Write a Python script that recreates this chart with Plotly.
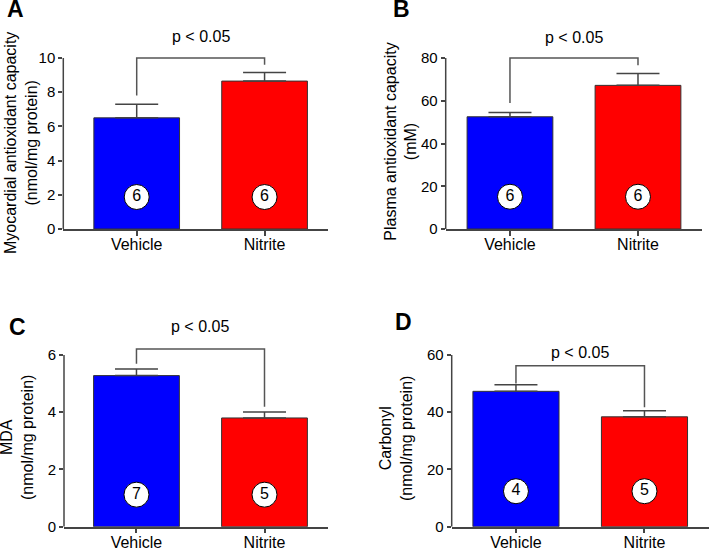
import plotly.graph_objects as go

# data
categories = ["Vehicle", "Nitrite"]

myocardial = [6.5, 8.65]
myocardial_err = [0.8, 0.5]
myocardial_n = [6, 6]

plasma = [52.5, 67.2]
plasma_err = [2.0, 5.6]
plasma_n = [6, 6]

mda = [5.28, 3.80]
mda_err = [0.23, 0.21]
mda_n = [7, 5]

carbonyl = [47.3, 38.4]
carbonyl_err = [2.3, 2.1]
carbonyl_n = [4, 5]

# significance brackets: top level, left leg end, right leg end
brackets = [(10, 7.8, 9.6), (80, 59, 76.6), (6.21, 5.69, 4.19), (56.2, 50.0, 41.7)]
# where the n-circles sit
circle_y = [1.87, 15.1, 1.12, 12.4]

W, H = 709, 548
FONT = "Liberation Sans, Arial, sans-serif"
AXC = "#444"

panels = [
    dict(letter="A", y=myocardial, err=myocardial_err, n=myocardial_n,
         title="Myocardial antioxidant capacity<br>(nmol/mg protein)",
         ticks=[0, 2, 4, 6, 8, 10], top=10.5,
         xpx=(63.3, 328), xr=(-0.574, 1.496), ypx=(229, 58),
         letter_pos=(15.7, 9), title_pos=(21, 143), pshift=11),
    dict(letter="B", y=plasma, err=plasma_err, n=plasma_n,
         title="Plasma antioxidant capacity<br>(mM)",
         ticks=[0, 20, 40, 60, 80], top=84,
         xpx=(445.7, 702), xr=(-0.502, 1.5), ypx=(229, 58),
         letter_pos=(401.5, 9), title_pos=(400.7, 142), pshift=10),
    dict(letter="C", y=mda, err=mda_err, n=mda_n,
         title="MDA<br>(nmol/mg protein)",
         ticks=[0, 2, 4, 6], top=6.4,
         xpx=(64, 328), xr=(-0.566, 1.496), ypx=(526.7, 355),
         letter_pos=(17, 326.5), title_pos=(17, 438), pshift=12),
    dict(letter="D", y=carbonyl, err=carbonyl_err, n=carbonyl_n,
         title="Carbonyl<br>(nmol/mg protein)",
         ticks=[0, 20, 40, 60], top=64,
         xpx=(451.7, 709), xr=(-0.5, 1.502), ypx=(526.7, 355),
         letter_pos=(403, 321.5), title_pos=(396, 439), pshift=3),
]

fig = go.Figure()
layout = {}
annotations = []
shapes = []

for i, p in enumerate(panels):
    k = "" if i == 0 else str(i + 1)
    xa, ya = "x" + k, "y" + k
    bottom, toptick = p["ypx"]
    ymax = p["ticks"][-1]
    pxper = (bottom - toptick) / ymax
    top_px = bottom - pxper * p["top"]

    layout["xaxis" + k] = dict(
        domain=[p["xpx"][0] / W, p["xpx"][1] / W], anchor=ya,
        type="category", range=list(p["xr"]), automargin=False,
        showline=True, linecolor=AXC, linewidth=1.5,
        ticks="outside", ticklen=5, tickcolor=AXC, tickwidth=1.5,
        ticklabelstandoff=-5,
        tickfont=dict(size=16, color="black", family=FONT),
        showgrid=False, zeroline=False, fixedrange=True)
    layout["yaxis" + k] = dict(
        domain=[1 - bottom / H, 1 - top_px / H], anchor=xa,
        range=[0, p["top"]], tickvals=p["ticks"], automargin=False,
        showline=False, ticks="outside", ticklen=4, tickcolor=AXC, tickwidth=1.5,
        tickfont=dict(size=15, color="black", family=FONT),
        showgrid=False, zeroline=False, fixedrange=True)

    fig.add_trace(go.Bar(
        x=categories, y=p["y"], xaxis=xa, yaxis=ya, width=0.67,
        marker=dict(color=["#0000FF", "#FF0000"], line=dict(color="#333", width=1)),
        error_y=dict(type="data", array=p["err"], arrayminus=[0, 0], symmetric=False,
                     color=AXC, thickness=1.5, width=21.5),
        showlegend=False, hoverinfo="skip"))

    top, l_leg, r_leg = brackets[i]
    fig.add_trace(go.Scatter(
        x=[categories[0], categories[0], categories[1], categories[1]],
        y=[l_leg, top, top, r_leg], xaxis=xa, yaxis=ya, mode="lines",
        line=dict(color="#555", width=1.5), showlegend=False, hoverinfo="skip"))

    fig.add_trace(go.Scatter(
        x=categories, y=[circle_y[i]] * 2, xaxis=xa, yaxis=ya,
        mode="markers+text", text=[str(v) for v in p["n"]],
        textposition="middle center",
        textfont=dict(size=16, color="black", family=FONT),
        marker=dict(size=25, color="white", line=dict(color="black", width=1)),
        showlegend=False, hoverinfo="skip"))

    # y axis line only up to the last tick
    shapes.append(dict(type="line", xref=xa + " domain", yref=ya,
                       x0=0, x1=0, y0=0, y1=ymax,
                       line=dict(color=AXC, width=1.5)))

    annotations.append(dict(
        text="p < 0.05", xref=xa, yref=ya, x=0.5, y=top,
        yanchor="bottom", yshift=p["pshift"], showarrow=False,
        font=dict(size=16, color="black", family=FONT)))
    annotations.append(dict(
        text="<b>%s</b>" % p["letter"], xref="paper", yref="paper",
        x=p["letter_pos"][0] / W, y=1 - p["letter_pos"][1] / H,
        xanchor="center", yanchor="middle", showarrow=False,
        font=dict(size=23, color="black", family=FONT)))
    annotations.append(dict(
        text=p["title"], xref="paper", yref="paper",
        x=p["title_pos"][0] / W, y=1 - p["title_pos"][1] / H,
        xanchor="center", yanchor="middle", textangle=-90, showarrow=False,
        font=dict(size=16, color="black", family=FONT)))

fig.update_layout(
    width=W, height=H, margin=dict(l=0, r=0, t=0, b=0, autoexpand=False),
    paper_bgcolor="white", plot_bgcolor="white",
    annotations=annotations, shapes=shapes, **layout)

# page body has a default 8px margin; drop it so the figure sits at 0,0
fig.write_html("out.html", config={"displayModeBar": False},
               post_script="document.body.style.margin = '0';")
